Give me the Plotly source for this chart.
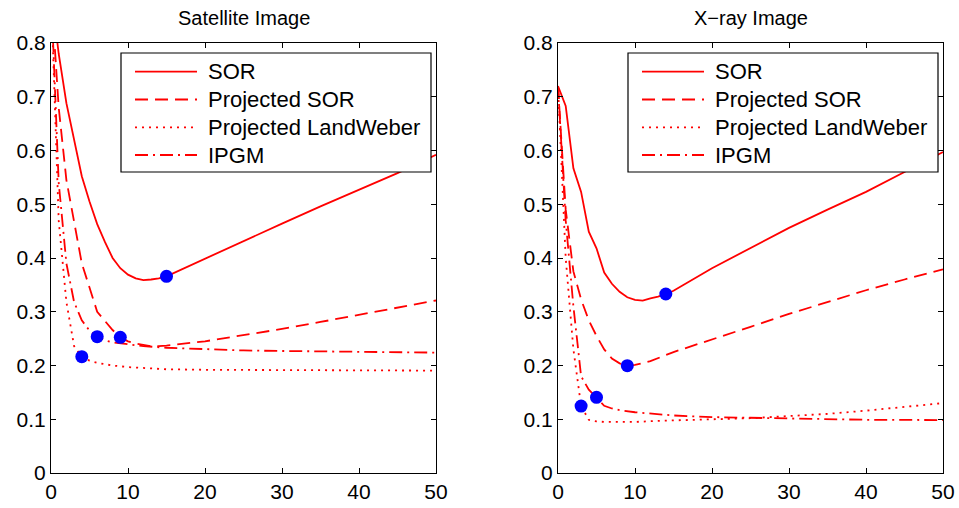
import plotly.graph_objects as go

# ---------------- data ----------------
# Satellite image (left)
sat_sor_x = [0, 1, 2, 3, 4, 5, 6, 7, 8, 9, 10, 11, 12, 13, 14, 15, 20, 25, 30, 35, 40, 45, 50]
sat_sor_y = [0.90, 0.78, 0.688, 0.62, 0.552, 0.505, 0.463, 0.43, 0.40, 0.381, 0.369, 0.362, 0.359,
             0.360, 0.362, 0.366, 0.399, 0.432, 0.464, 0.496, 0.527, 0.558, 0.592]

sat_psor_x = [0, 1, 2, 3, 4, 5, 6, 7, 8, 9, 10, 11, 12, 13, 14, 15, 20, 25, 30, 35, 40, 45, 50]
sat_psor_y = [0.90, 0.68, 0.545, 0.465, 0.39, 0.345, 0.30, 0.283, 0.266, 0.2525, 0.245, 0.241, 0.238,
              0.236, 0.236, 0.237, 0.245, 0.256, 0.268, 0.281, 0.294, 0.307, 0.321]

sat_lw_x = [0, 1, 2, 3, 4, 5, 6, 7, 8, 10, 12, 15, 20, 30, 40, 50]
sat_lw_y = [0.90, 0.47, 0.318, 0.236, 0.2164, 0.209, 0.205, 0.202, 0.200, 0.197, 0.195, 0.193,
            0.192, 0.1915, 0.191, 0.1905]

sat_ipgm_x = [0, 1, 2, 3, 4, 5, 6, 7, 8, 9, 10, 12, 15, 20, 25, 30, 35, 40, 45, 50]
sat_ipgm_y = [0.90, 0.54, 0.39, 0.318, 0.284, 0.265, 0.2536, 0.247, 0.243, 0.241, 0.239, 0.236,
              0.233, 0.230, 0.228, 0.227, 0.226, 0.225, 0.2245, 0.224]

# X-ray image (right)
xr_sor_x = [0, 1, 2, 3, 4, 5, 6, 7, 8, 9, 10, 11, 12, 13, 14, 15, 20, 25, 30, 35, 40, 45, 50]
xr_sor_y = [0.72, 0.683, 0.567, 0.523, 0.449, 0.418, 0.373, 0.352, 0.337, 0.327, 0.322, 0.3206,
            0.325, 0.328, 0.333, 0.339, 0.381, 0.419, 0.456, 0.490, 0.523, 0.560, 0.597]

xr_psor_x = [0, 1, 2, 3, 4, 5, 6, 7, 8, 9, 10, 12, 15, 20, 25, 30, 35, 40, 45, 50]
xr_psor_y = [0.72, 0.49, 0.375, 0.323, 0.284, 0.255, 0.23, 0.213, 0.204, 0.1997, 0.201, 0.208,
             0.225, 0.248, 0.272, 0.296, 0.318, 0.34, 0.36, 0.379]

xr_lw_x = [0, 1, 2, 3, 4, 5, 6, 8, 10, 13, 15, 20, 25, 30, 35, 40, 45, 50]
xr_lw_y = [0.72, 0.40, 0.23, 0.1246, 0.099, 0.096, 0.095, 0.095, 0.095, 0.097, 0.098, 0.100,
           0.102, 0.106, 0.110, 0.116, 0.123, 0.130]

xr_ipgm_x = [0, 1, 2, 3, 4, 5, 6, 7, 8, 10, 12, 15, 20, 30, 40, 50]
xr_ipgm_y = [0.72, 0.47, 0.31, 0.18, 0.155, 0.1408, 0.125, 0.12, 0.117, 0.113, 0.111, 0.107,
             0.104, 0.101, 0.099, 0.0985]

# optimal iteration markers (iteration index for SOR, Proj. SOR, LandWeber, IPGM)
sat_opt = [15, 9, 4, 6]
xr_opt = [14, 9, 3, 5]

names = ["SOR", "Projected SOR", "Projected LandWeber", "IPGM"]
titles = ["Satellite Image", "X\u2212ray Image"]
x_ticks = [0, 10, 20, 30, 40, 50]
y_ticks = [0, 0.1, 0.2, 0.3, 0.4, 0.5, 0.6, 0.7, 0.8]

# ---------------- styling ----------------
RED = "#FF0000"
dashes = ["solid", "13px,7px", "2px,5px", "13px,5px,2px,5px"]
FONT = "Liberation Sans, Arial, Helvetica, sans-serif"
W, H = 959, 508
LW = 1.8


def px(xpix):
    return xpix / W


def py(ypix):
    return 1 - ypix / H


fig = go.Figure()

panels = [
    ([(sat_sor_x, sat_sor_y), (sat_psor_x, sat_psor_y), (sat_lw_x, sat_lw_y), (sat_ipgm_x, sat_ipgm_y)],
     sat_opt, "x", "y"),
    ([(xr_sor_x, xr_sor_y), (xr_psor_x, xr_psor_y), (xr_lw_x, xr_lw_y), (xr_ipgm_x, xr_ipgm_y)],
     xr_opt, "x2", "y2"),
]

for series, opt, xa, ya in panels:
    for (xs, ys), name, dash in zip(series, names, dashes):
        fig.add_trace(go.Scatter(
            x=xs, y=ys, mode="lines", name=name, xaxis=xa, yaxis=ya, showlegend=False,
            line=dict(color=RED, width=LW, dash=dash),
        ))
    mx, my = [], []
    for (xs, ys), k in zip(series, opt):
        mx.append(k)
        my.append(ys[xs.index(k)])
    fig.add_trace(go.Scatter(
        x=mx, y=my, mode="markers", xaxis=xa, yaxis=ya, showlegend=False,
        marker=dict(color="#0000FF", size=13, line=dict(width=0)),
    ))

left_dom = [px(51), px(436)]
right_dom = [px(558), px(943)]
y_dom = [py(473), py(43)]

axis_common = dict(
    showgrid=False, zeroline=False, showline=True, linecolor="black", linewidth=1,
    mirror="allticks", ticks="inside", ticklen=5, tickcolor="black", tickwidth=1,
    tickfont=dict(family=FONT, size=21, color="black"), automargin=False,
)

# legend boxes (drawn as shapes + text, matching the reference layout)
shapes = []
annotations = []
row_y = [71.7, 99.5, 127.3, 155.0]
for box_left in (121, 628):
    shapes.append(dict(type="rect", xref="paper", yref="paper",
                       x0=px(box_left), x1=px(box_left + 310), y0=py(172), y1=py(53),
                       line=dict(color="black", width=1.2), fillcolor="white", layer="above"))
    for name, dash, ry in zip(names, dashes, row_y):
        shapes.append(dict(type="line", xref="paper", yref="paper",
                           x0=px(box_left + 14), x1=px(box_left + 76), y0=py(ry), y1=py(ry),
                           line=dict(color=RED, width=LW, dash=dash), layer="above"))
        annotations.append(dict(text=name, x=px(box_left + 85), y=py(ry), xref="paper", yref="paper",
                                xanchor="left", yanchor="middle", showarrow=False,
                                font=dict(family=FONT, size=22, color="black")))

for t, dom in zip(titles, (left_dom, right_dom)):
    annotations.append(dict(text=t, x=(dom[0] + dom[1]) / 2, y=py(18), xref="paper", yref="paper",
                            xanchor="center", yanchor="middle", showarrow=False,
                            font=dict(family=FONT, size=20, color="black")))

fig.update_layout(
    width=W, height=H,
    margin=dict(l=0, r=0, t=0, b=0),
    paper_bgcolor="white", plot_bgcolor="white",
    font=dict(family=FONT, color="black"),
    showlegend=False,
    xaxis=dict(domain=left_dom, range=[0, 50], tickvals=x_ticks, anchor="y", **axis_common),
    yaxis=dict(domain=y_dom, range=[0, 0.8], tickvals=y_ticks, anchor="x", **axis_common),
    xaxis2=dict(domain=right_dom, range=[0, 50], tickvals=x_ticks, anchor="y2", **axis_common),
    yaxis2=dict(domain=y_dom, range=[0, 0.8], tickvals=y_ticks, anchor="x2", **axis_common),
    shapes=shapes,
    annotations=annotations,
)

fig.write_html(
    "out.html",
    config={"displayModeBar": False},
    post_script="document.body.style.margin='0';document.body.style.overflow='hidden';",
)
